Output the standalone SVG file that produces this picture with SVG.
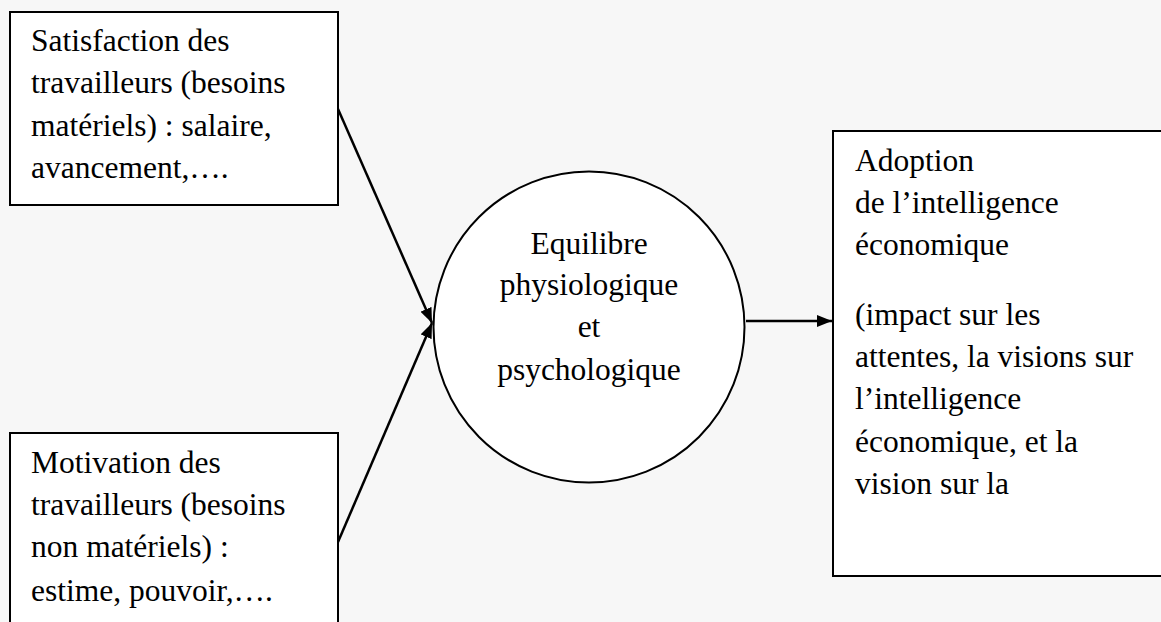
<svg xmlns="http://www.w3.org/2000/svg" width="1161" height="622" viewBox="0 0 1161 622">
<style>
.bg{fill:#f7f7f7}
.box{fill:#fff;stroke:#000;stroke-width:2}
.t{font-family:"Liberation Serif","Times New Roman",serif;font-size:31.5px;fill:#000}
.c{text-anchor:middle}
.edge{stroke:#000;stroke-width:2.5;fill:none}
</style>
<defs>
<marker id="ah" viewBox="0 0 10 10" refX="10" refY="5" markerWidth="6" markerHeight="5" orient="auto" markerUnits="userSpaceOnUse" preserveAspectRatio="none">
<path d="M0,0 L10,5 L0,10 Z" fill="#000"/>
</marker>
<marker id="ah2" viewBox="0 0 10 10" refX="10" refY="5" markerWidth="15" markerHeight="12" orient="auto" markerUnits="userSpaceOnUse" preserveAspectRatio="none">
<path d="M0,0 L10,5 L0,10 Z" fill="#000"/>
</marker>
</defs>
<rect class="bg" x="0" y="0" width="1161" height="622"/>
<g id="connectors">
<line class="edge" x1="338" y1="109" x2="432" y2="323" marker-end="url(#ah2)"/>
<line class="edge" x1="338" y1="542" x2="432" y2="323" marker-end="url(#ah2)"/>
<line class="edge" x1="746" y1="321" x2="832" y2="321" marker-end="url(#ah2)"/>
</g>
<g id="node-satisfaction">
<rect class="box" x="10" y="12" width="328" height="193"/>
<text class="t" x="31" y="51">Satisfaction des</text>
<text class="t" x="31" y="93">travailleurs (besoins</text>
<text class="t" x="31" y="135.5">matériels) : salaire,</text>
<text class="t" x="31" y="178">avancement,….</text>
</g>
<g id="node-motivation">
<rect class="box" x="10" y="433" width="328" height="200"/>
<text class="t" x="31" y="473">Motivation des</text>
<text class="t" x="31" y="515">travailleurs (besoins</text>
<text class="t" x="31" y="557">non matériels) :</text>
<text class="t" x="31" y="601">estime, pouvoir,….</text>
</g>
<g id="node-equilibre">
<circle class="box" cx="589" cy="327" r="155.5"/>
<text class="t c" x="589" y="254">Equilibre</text>
<text class="t c" x="589" y="295">physiologique</text>
<text class="t c" x="589" y="337">et</text>
<text class="t c" x="589" y="380">psychologique</text>
</g>
<g id="node-adoption">
<rect class="box" x="833" y="131" width="340" height="445"/>
<text class="t" x="855" y="171">Adoption</text>
<text class="t" x="855" y="213">de l’intelligence</text>
<text class="t" x="855" y="255">économique</text>
<text class="t" x="855" y="325">(impact sur les</text>
<text class="t" x="855" y="367">attentes, la visions sur</text>
<text class="t" x="855" y="409">l’intelligence</text>
<text class="t" x="855" y="452">économique, et la</text>
<text class="t" x="855" y="494">vision sur la</text>
</g>
</svg>
